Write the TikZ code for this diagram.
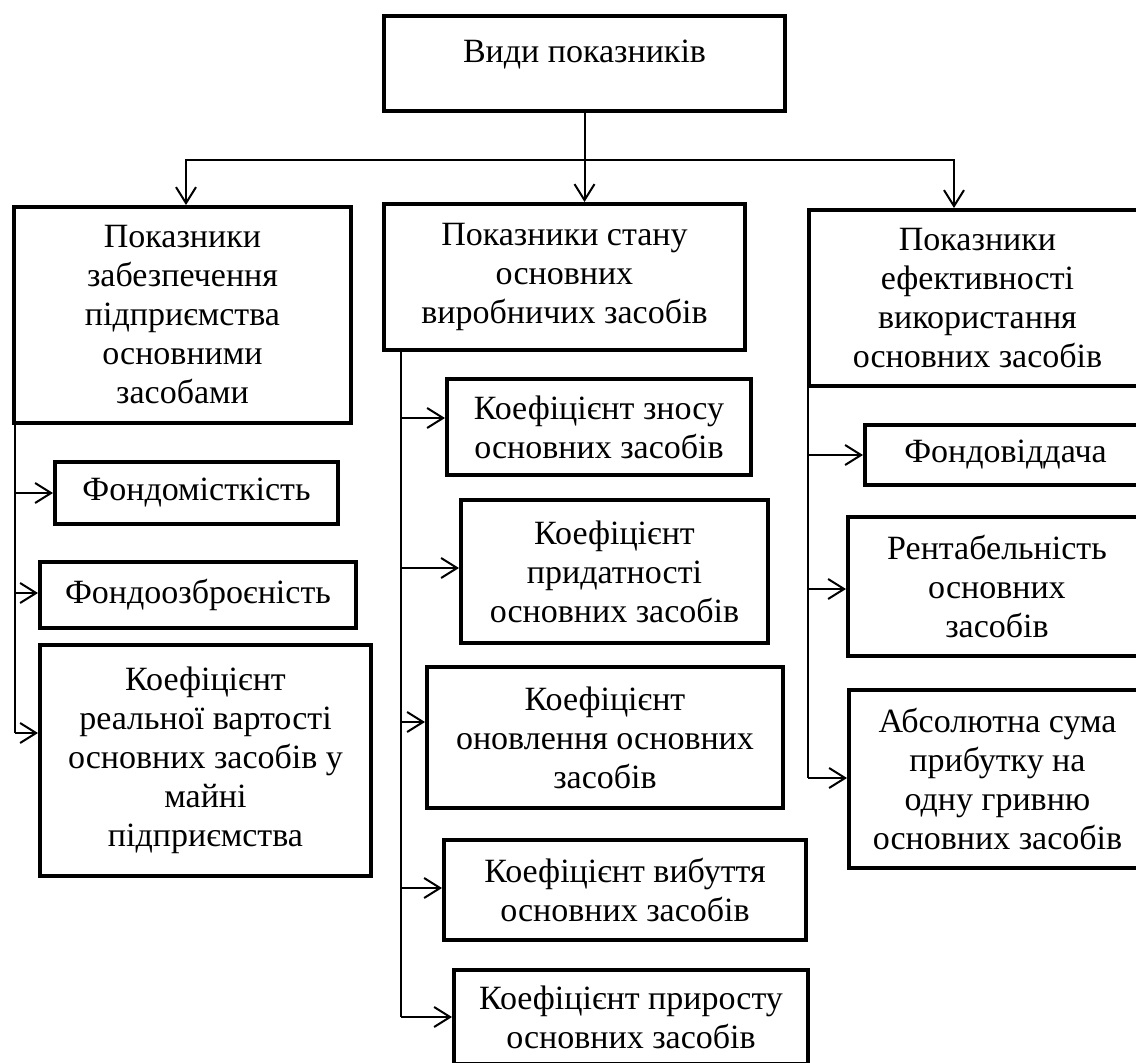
\documentclass[tikz,border=0pt]{standalone}
\usepackage{fontspec}
\setmainfont{Liberation Serif}
\usetikzlibrary{arrows.meta}
\tikzset{
	blok/.style={draw, line width=4pt, inner sep=0pt, align=center, font=\fontsize{34}{39}\selectfont},
	>={Straight Barb[length=16pt,width=20pt]},
}

\begin{document}
\begin{tikzpicture}[x=1pt, y=-1pt, line width=2pt]
			\useasboundingbox (0,0) rectangle (1136,1063);
			% top
			\node[blok, minimum width=401pt, minimum height=95pt, text depth=24pt] (vyd) at (584.5,63.5) {Види показників};
			\node[blok, minimum width=337pt, minimum height=216pt] (zab) at (182.5,315) {Показники\\ забезпечення\\ підприємства\\ основними\\ засобами};
			\node[blok, minimum width=361pt, minimum height=146pt] (stan) at (564.5,277) {Показники стану\\ основних\\ виробничих засобів};
			\node[blok, minimum width=337pt, minimum height=176pt] (efk) at (977.5,298) {Показники\\ ефективності\\ використання\\ основних засобів};
			% left column
			\node[blok, minimum width=283pt, minimum height=62pt] (fm) at (196.5,493) {Фондомісткість};
			\node[blok, minimum width=316pt, minimum height=66pt] (fo) at (198,595) {Фондоозброєність};
			\node[blok, minimum width=331pt, minimum height=231pt] (krv) at (205.5,760.5) {Коефіцієнт\\ реальної вартості\\ основних засобів у\\ майні\\ підприємства};
			% middle column
			\node[blok, minimum width=304pt, minimum height=96pt] (kzn) at (599,427) {Коефіцієнт зносу\\ основних засобів};
			\node[blok, minimum width=307pt, minimum height=143pt] (kpr) at (614.5,571.5) {Коефіцієнт\\ придатності\\ основних засобів};
			\node[blok, minimum width=356pt, minimum height=141pt] (kon) at (605,737.5) {Коефіцієнт\\ оновлення основних\\ засобів};
			\node[blok, minimum width=362pt, minimum height=100pt] (kvb) at (625,890) {Коефіцієнт вибуття\\ основних засобів};
			\node[blok, minimum width=354pt, minimum height=94pt] (kprr) at (631,1017) {Коефіцієнт приросту\\ основних засобів};
			% right column
			\node[blok, minimum width=281pt, minimum height=60pt] (fv) at (1005.5,455) {Фондовіддача};
			\node[blok, minimum width=298pt, minimum height=139pt] (ren) at (997,586.5) {Рентабельність\\ основних\\ засобів};
			\node[blok, minimum width=297pt, minimum height=178pt] (abs) at (997.5,779) {Абсолютна сума\\ прибутку на\\ одну гривню\\ основних засобів};

			\coordinate (hl) at (186,160);
			\coordinate (hr) at (954,160);
			\coordinate (l1) at (15,493);
			\coordinate (l2) at (15,593);
			\coordinate (l3) at (15,733);
			\coordinate (m1) at (401,418);
			\coordinate (m2) at (401,568);
			\coordinate (m3) at (401,722);
			\coordinate (m4) at (401,888);
			\coordinate (m5) at (401,1017);
			\coordinate (r1) at (808,455);
			\coordinate (r2) at (808,589);
			\coordinate (r3) at (808,778);

			\draw[->] (vyd.south) -- (vyd.south |- stan.north);
			\draw[<->] (hl |- zab.north) -- (hl) -- (hr) -- (hr |- efk.north);
			\draw (zab.south -| l1) -- (l3);
			\draw (stan.south -| m1) -- (m5);
			\draw (efk.south -| r1) -- (r3);
			\path[->]
			(l1) edge (l1 -| fm.west) (l2) edge (l2 -| fo.west) (l3) edge (l3 -| krv.west)
			(m1) edge (m1 -| kzn.west) (m2) edge (m2 -| kpr.west) (m3) edge (m3 -| kon.west)
			(m4) edge (m4 -| kvb.west) (m5) edge (m5 -| kprr.west)
			(r1) edge (r1 -| fv.west) (r2) edge (r2 -| ren.west) (r3) edge (r3 -| abs.west);
		\end{tikzpicture}
\end{document}
